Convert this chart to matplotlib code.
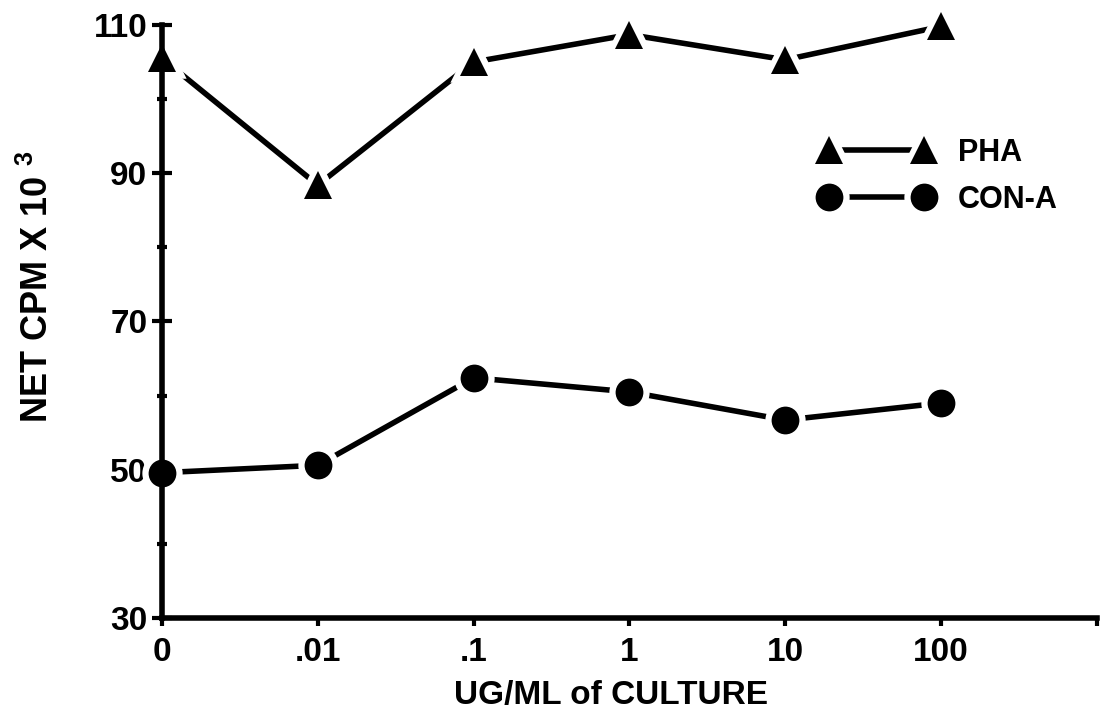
import numpy as np
import matplotlib
matplotlib.use("Agg")
import matplotlib.pyplot as plt

plt.rcParams['font.family'] = ['Liberation Sans', 'DejaVu Sans']
plt.rcParams['font.weight'] = 'bold'
plt.rcParams['mathtext.fontset'] = 'custom'
plt.rcParams['mathtext.rm'] = 'Liberation Sans:bold'
plt.rcParams['mathtext.bf'] = 'Liberation Sans:bold'

# datos
conc_labels = ["0", ".01", ".1", "1", "10", "100"]
pha = [105.5, 88.4, 105.0, 108.7, 105.3, 109.8]
con_a = [49.6, 50.6, 62.4, 60.5, 56.7, 59.0]
y_major = [30, 50, 70, 90, 110]
y_minor = [40, 60, 80, 100]

x = np.arange(len(conc_labels))

fig = plt.figure(figsize=(11.04, 7.19), dpi=100)
ax = fig.add_axes([0.1467, 0.1405, 0.8469, 0.8248])

lw = 4
ms = 20
halo = dict(color="black", lw=lw, mfc="black", mec="white", mew=9, ms=ms,
            clip_on=False, zorder=2)
top = dict(color="black", ls="none", mfc="black", mec="black", mew=0, ms=ms,
           clip_on=False, zorder=3)

h1, = ax.plot(x, pha, marker="^", **halo)
t1, = ax.plot(x, pha, marker="^", **top)
h2, = ax.plot(x, con_a, marker="o", **halo)
t2, = ax.plot(x, con_a, marker="o", **top)

ax.set_xlim(0, len(conc_labels))
ax.set_ylim(30, 110)

for s in ["top", "right"]:
    ax.spines[s].set_visible(False)
for s in ["left", "bottom"]:
    ax.spines[s].set_linewidth(4)

ax.set_yticks(y_major)
ax.set_yticks(y_minor, minor=True)
ax.set_xticks(list(x) + [len(conc_labels)])
ax.set_xticklabels(conc_labels + [""])
ax.tick_params(axis="y", which="major", direction="inout", length=15, width=3,
               labelsize=24, pad=3)
ax.tick_params(axis="y", which="minor", direction="inout", length=7, width=3)
ax.tick_params(axis="x", direction="out", length=6, width=3, labelsize=24, pad=8)

ax.set_xlabel("UG/ML of CULTURE", fontsize=24, fontweight="bold")
ax.xaxis.set_label_coords(0.48, -0.105)
ax.set_ylabel(r"NET CPM X 10 $^{3}$", fontsize=26, fontweight="bold")
ax.yaxis.set_label_coords(-0.113, 0.558)

ax.legend([(h1, t1), (h2, t2)], ["PHA", "CON-A"], loc="upper left",
          bbox_to_anchor=(0.704, 0.81), frameon=False, fontsize=22,
          numpoints=2, handlelength=3.7, handletextpad=0.8, labelspacing=0.56,
          borderpad=0, borderaxespad=0)

fig.savefig("out.png", dpi=100)
